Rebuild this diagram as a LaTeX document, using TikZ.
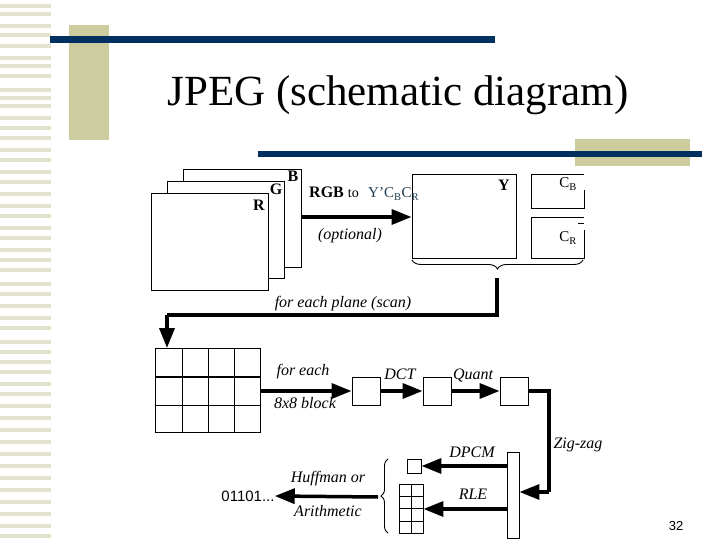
\documentclass[tikz,border=0pt]{standalone}
\usepackage{fontspec}
\setmainfont{Liberation Serif}
\newfontfamily\sansf{Liberation Sans}
\usetikzlibrary{arrows.meta,decorations.pathreplacing}
\definecolor{tan}{RGB}{204,204,158}
\definecolor{stripe}{RGB}{226,226,206}
\definecolor{navy}{RGB}{0,48,96}
\definecolor{teal}{RGB}{30,60,80}
\begin{document}
\begin{tikzpicture}[x=1pt,y=-1pt,
  box/.style={draw,line width=0.9pt,inner sep=0pt},
  flow/.style={line width=3.5pt,-{Triangle[length=20pt,width=15pt]}},
  pipe/.style={line width=3.5pt},
  lab/.style={font=\itshape\fontsize{16}{16}\selectfont,inner sep=0pt},
  blab/.style={font=\bfseries\fontsize{16}{16}\selectfont,inner sep=0pt}]
\useasboundingbox (0,0) rectangle (720,540);
% decorations
\foreach \y in {4,12,24,33,44,56,64,74,88,96,104,116,126,136,148,158,170,180,192,204,214,226,236,248,258,268,282,292,304,316,326,340,350,360,370,382,392,404,416,428,440,452,464,476,488,500,512,524,534}
  \fill[stripe] (0,\y) rectangle (51,\y+4);
\fill[tan] (69,25) rectangle (109,140);
\fill[navy] (50,36) rectangle (495,43);
\fill[tan] (575,139) rectangle (690,166);
\fill[navy] (258,151) rectangle (702,157);
\node[font=\fontsize{43}{43}\selectfont,inner sep=0pt] (title) at (398,95) {JPEG (schematic diagram)};
% planes
\draw[box,fill=white] (183,169) rectangle (301,267);
\draw[box,fill=white] (167,181) rectangle (284,278);
\draw[box,fill=white] (151,193) rectangle (268,290);
\node[blab] (lb) at (293,176) {B};
\node[blab] (lg) at (276,189) {G};
\node[blab] (lr) at (259,205) {R};
\coordinate (pout) at (301,217);
% Y Cb Cr
\node[box,minimum width=104pt,minimum height=84pt] (Y) at (464,216) {};
\node[blab] (ly) at (504,185) {Y};
\draw[line width=0.9pt] (584,190) -- (584,208) -- (531,208) -- (531,174) -- (584,174);
\draw[line width=0.9pt] (584,217) -- (531,217) -- (531,258) -- (584,258) -- (584,230);
\node[font=\fontsize{15}{15}\selectfont,inner sep=0pt] (cb) at (568,184) {C\textsubscript{B}};
\node[font=\fontsize{15}{15}\selectfont,inner sep=0pt] (cr) at (568,238) {C\textsubscript{R}};
\draw[line width=0.6pt] (578,223) -- (584,223);
\draw[flow] (pout) -- (Y.west |- pout);
\node[blab,anchor=base west] (rgb) at (309,198) {RGB \normalfont\fontsize{14}{14}\selectfont to};
\node[anchor=base west,inner sep=0pt,text=teal,font=\fontsize{15}{15}\selectfont] (ycc) at (368,198) {Y'C\textsubscript{B}C\textsubscript{R}};
\node[lab] (opt) at (350,236) {(optional)};
\draw[decorate,decoration={brace,mirror,amplitude=9pt},line width=0.9pt] (412,260) -- (583,260);
\coordinate (bt) at (497,278);
\coordinate (c1) at (497,315);
\coordinate (c2) at (167,315);
\node[lab] (scan) at (343,304) {for each plane (scan)};
% grid
\draw[box] (155,348) rectangle (260,432);
\foreach \x in {182,208,234} \draw[line width=0.9pt] (\x,348) -- (\x,432);
\draw[line width=1.8pt] (155,377) -- (260,377);
\draw[line width=0.9pt] (155,405) -- (260,405);
\coordinate (gtop) at (167,348);
\draw[pipe] (bt) -- (c1) -- (c2);
\draw[flow] (c2) -- (gtop);
% blocks
\node[box,minimum size=28pt] (b1) at (366,391) {};
\node[box,minimum size=28pt] (b2) at (437,391) {};
\node[box,minimum size=28pt] (b3) at (514,391) {};
\draw[flow] (260,391) -- (b1.west);
\draw[flow] (b1) -- (b2);
\draw[flow] (b2) -- (b3);
\node[lab] (fe) at (303,372) {for each};
\node[lab] (blk) at (305,403) {8x8 block};
\node[lab] (dct) at (400,374) {DCT};
\node[lab] (qt) at (473,375) {Quant};
% zigzag bar
\node[box,minimum width=12pt,minimum height=86pt] (bar) at (513,495) {};
\coordinate (z1) at (549,391);
\coordinate (z2) at (549,492);
\draw[pipe] (b3.east) -- (z1) -- (z2);
\draw[flow] (z2) -- (bar.east |- z2);
\node[lab] (zz) at (578,445) {Zig-zag};
% DPCM & RLE
\node[box,minimum size=14pt] (dc) at (414,466) {};
\draw[flow] (bar.west |- dc) -- (dc.east);
\node[lab] (dp) at (472,452) {DPCM};
\node[box,minimum width=24pt,minimum height=49pt] (ac) at (411,508.5) {};
\draw[line width=0.9pt] (411,484) -- (411,533);
\foreach \y in {496,508.5,521} \draw[line width=0.9pt] (399,\y) -- (423,\y);
\draw[flow] (bar.west |- 0,509) -- (ac.east |- 0,509);
\node[lab] (rle) at (473,494) {RLE};
\draw[decorate,decoration={brace,amplitude=7pt},line width=0.9pt] (388,533) -- (388,459);
\coordinate (lt) at (378,497);
\node[font=\sansf\fontsize{15}{15}\selectfont,inner sep=0pt] (bits) at (248,496) {01101...};
\draw[flow] (lt) -- (bits.east);
\node[lab] (hf) at (328,479) {Huffman or};
\node[lab] (ar) at (328,511) {Arithmetic};
\node[font=\sansf\fontsize{13}{13}\selectfont] (pg) at (676,526) {32};
\end{tikzpicture}
\end{document}
